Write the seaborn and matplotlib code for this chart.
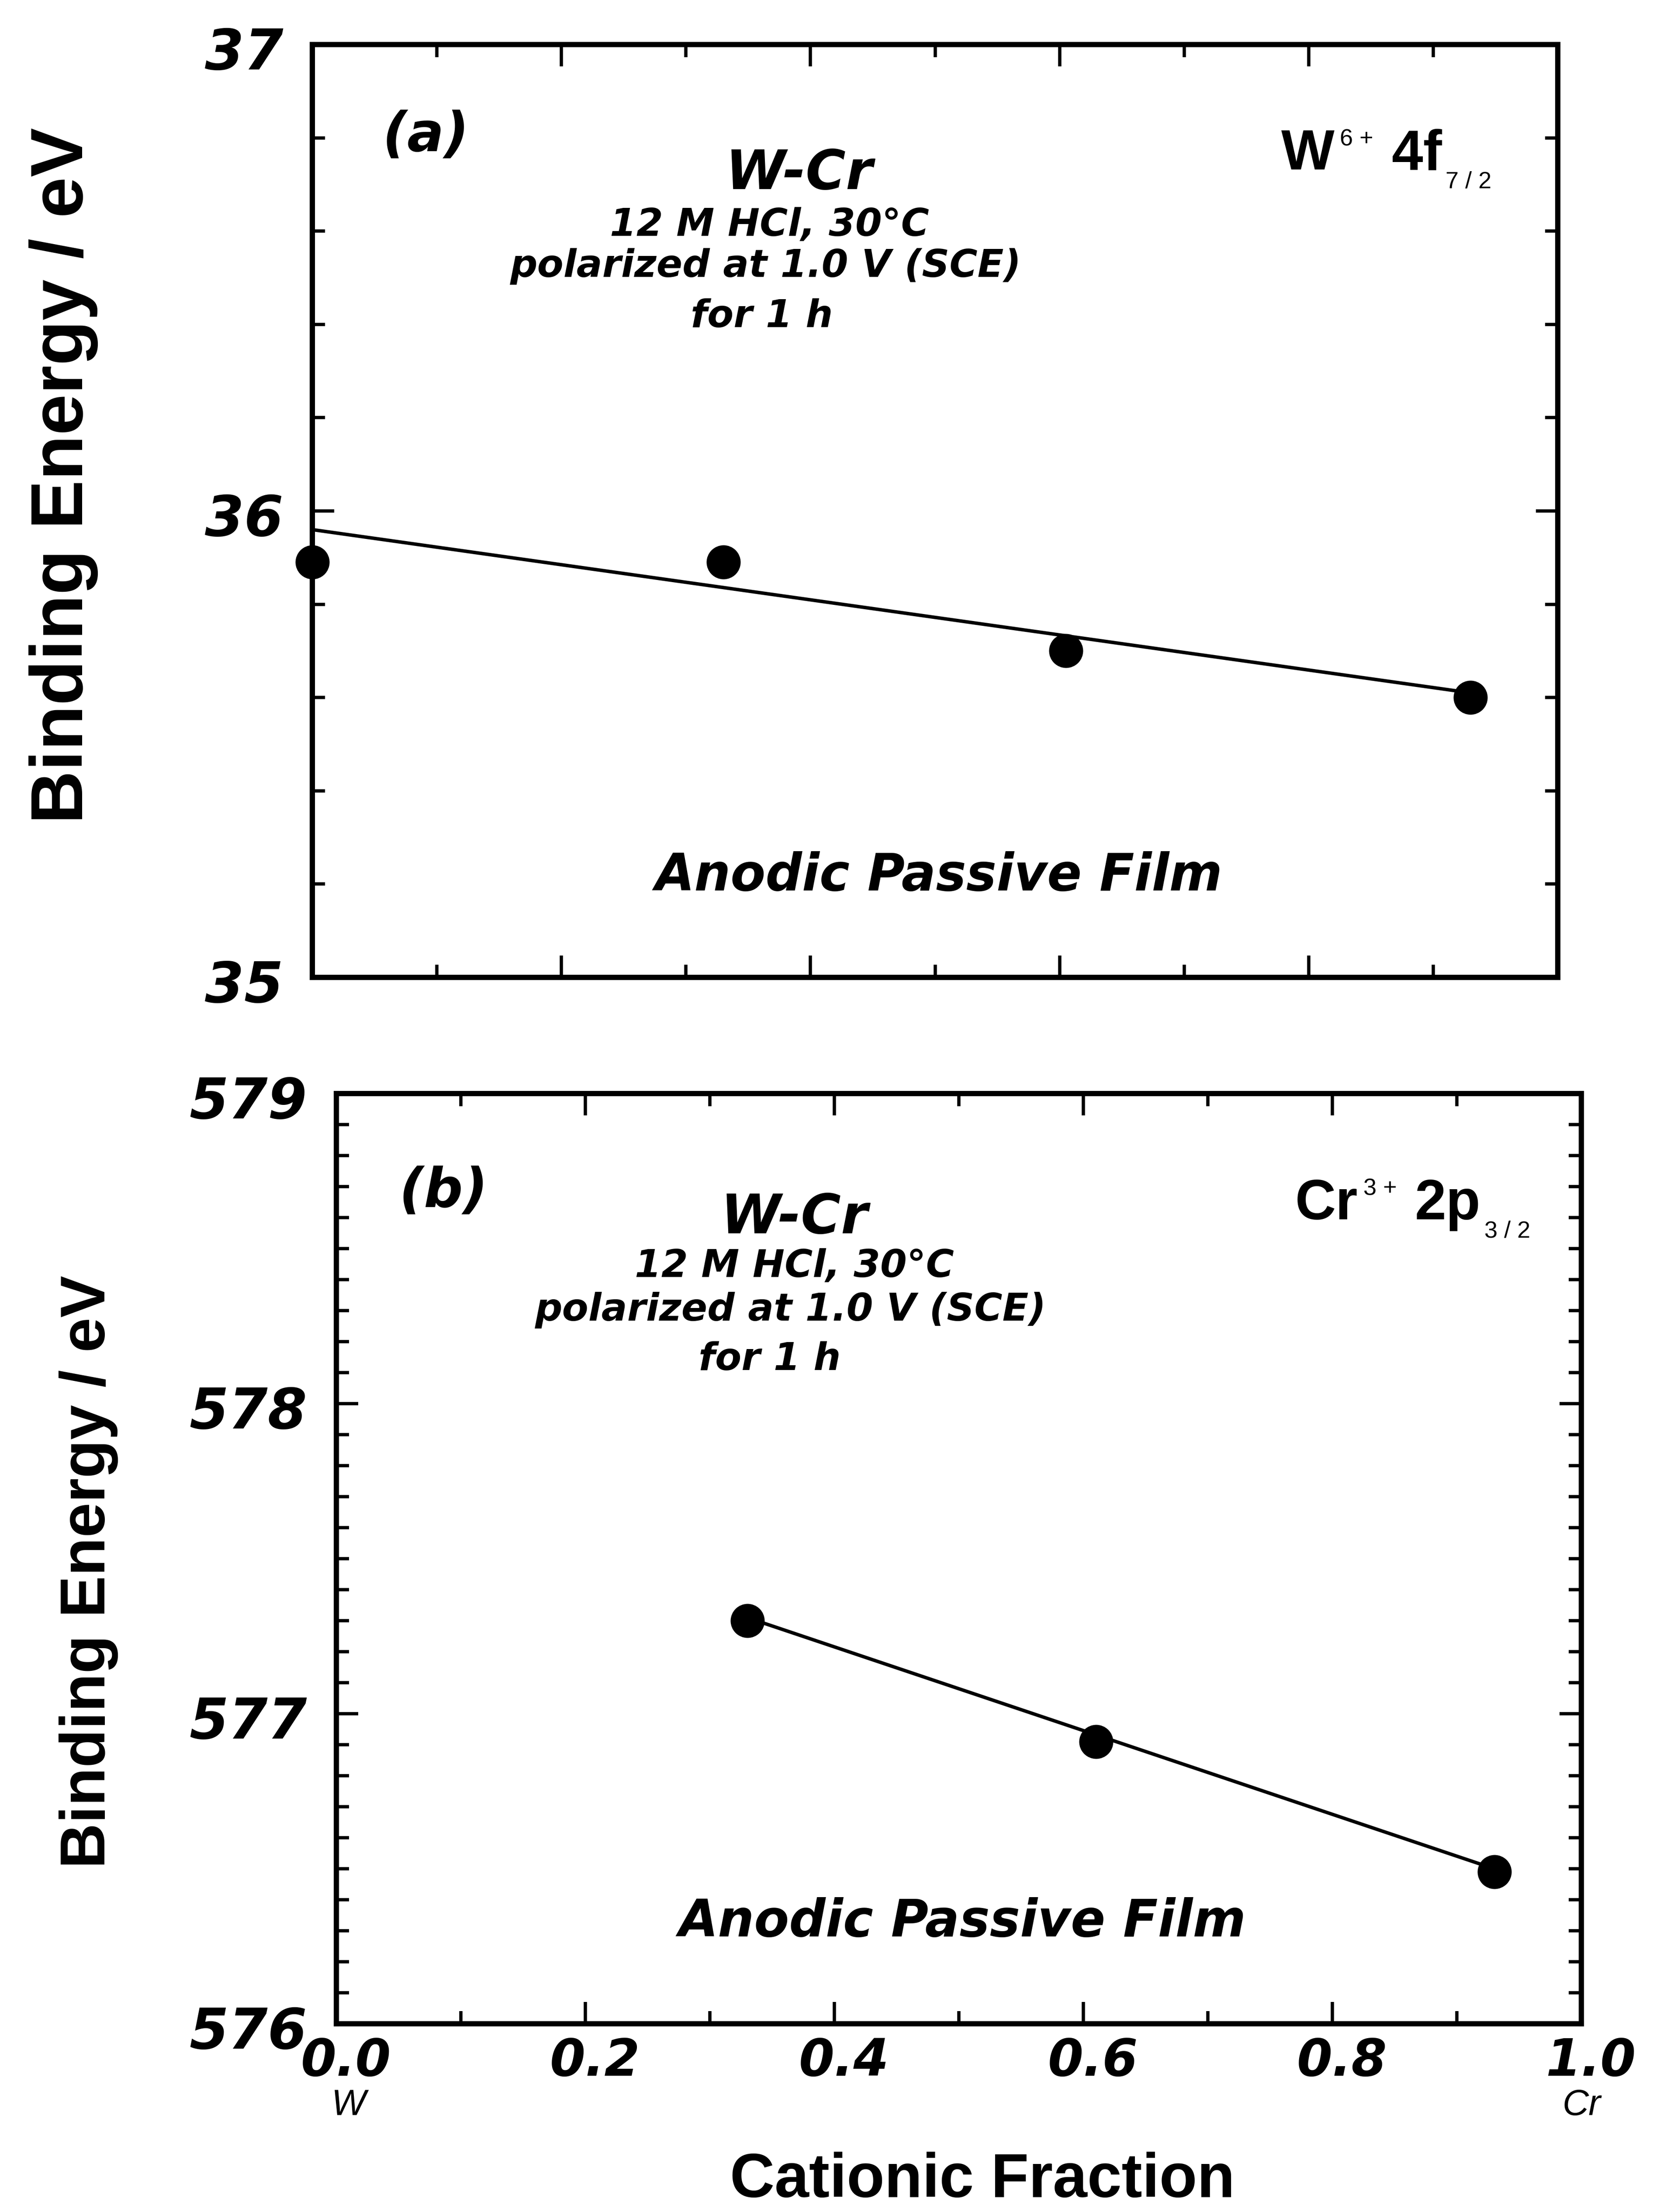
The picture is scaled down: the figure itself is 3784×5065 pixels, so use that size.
import matplotlib
matplotlib.use("Agg")
import matplotlib.pyplot as plt
import seaborn as sns
from matplotlib.ticker import MultipleLocator, FixedLocator
from matplotlib.transforms import ScaledTranslation, blended_transform_factory

# ---------------- data ----------------
frac_a = [0.0, 0.33, 0.605, 0.93]
be_a = [35.89, 35.89, 35.70, 35.60]
fit_frac_a = [0.0, 0.93]
fit_be_a = [35.96, 35.61]

frac_b = [0.33, 0.61, 0.93]
be_b = [577.30, 576.91, 576.49]
fit_frac_b = [0.33, 0.93]
fit_be_b = [577.31, 576.50]

xticks = [0.0, 0.2, 0.4, 0.6, 0.8, 1.0]
xticklabels = ["0.0", "0.2", "0.4", "0.6", "0.8", "1.0"]
yticks_a = [35, 36, 37]
yticklabels_a = ["35", "36", "37"]
yticks_b = [576, 577, 578, 579]
yticklabels_b = ["576", "577", "578", "579"]

# ---------------- style ----------------
sns.set_theme(style="ticks")
plt.rcParams["font.family"] = ["Liberation Sans", "DejaVu Sans"]
plt.rcParams.update({
    "text.color": "black",
    "axes.labelcolor": "black",
    "xtick.color": "black",
    "ytick.color": "black",
    "axes.edgecolor": "black",
})
ITAL = ["DejaVu Sans"]

W, H = 3784, 5065
DPI = 300
fig = plt.figure(figsize=(W / DPI, H / DPI), dpi=DPI)
fig.patch.set_facecolor("white")

ax_a = fig.add_axes([715 / W, 1 - 2238 / H, (3566 - 715) / W, (2238 - 102) / H])
ax_b = fig.add_axes([770 / W, 1 - 4634 / H, (3620 - 770) / W, (4634 - 2504) / H])


def style_axis(ax, yticks, ylabels, yminor, ylim, show_xlabels):
    ax.set_facecolor("white")
    for sp in ax.spines.values():
        sp.set_visible(True)
        sp.set_linewidth(2.9)
        sp.set_color("black")
    ax.set_xlim(0, 1)
    ax.set_ylim(*ylim)
    ax.xaxis.set_major_locator(FixedLocator(xticks))
    ax.xaxis.set_minor_locator(MultipleLocator(0.1))
    ax.yaxis.set_major_locator(FixedLocator(yticks))
    ax.yaxis.set_minor_locator(MultipleLocator(yminor))
    ax.tick_params(which="both", direction="in", top=True, right=True,
                   color="black", width=1.8)
    ax.tick_params(which="major", length=12)
    ax.tick_params(which="minor", length=7)
    ax.tick_params(axis="y", which="major", pad=16)
    ax.tick_params(axis="x", which="major", pad=7)
    ax.set_yticks(yticks)
    ax.set_yticklabels(ylabels, fontsize=31, fontweight="bold",
                       fontstyle="italic", color="black", family=ITAL)
    yoff = ScaledTranslation(0, -8 / DPI, fig.dpi_scale_trans)
    for lbl in ax.get_yticklabels():
        lbl.set_transform(lbl.get_transform() + yoff)
    ax.set_xticks(xticks)
    if show_xlabels:
        ax.set_xticklabels(xticklabels, fontsize=28, fontweight="bold",
                           fontstyle="italic", color="black", family=ITAL)
        xoff = ScaledTranslation(22 / DPI, 0, fig.dpi_scale_trans)
        for lbl in ax.get_xticklabels():
            lbl.set_transform(lbl.get_transform() + xoff)
    else:
        ax.set_xticklabels([])
    ax.grid(False)


def species_label(ax, x, y, main, sup, main2, sub):
    t1 = ax.text(x, y, main, transform=ax.transAxes, fontsize=31,
                 fontweight="bold", ha="left", va="baseline", color="black")
    t2 = ax.annotate(sup, xy=(1, 1), xycoords=t1, xytext=(3, 0),
                     textcoords="offset points", fontsize=13, ha="left",
                     va="top", color="black")
    t3 = ax.annotate(main2, xy=(1, 0), xycoords=(t2, t1), xytext=(10, 0),
                     textcoords="offset points", fontsize=31,
                     fontweight="bold", ha="left", va="bottom", color="black")
    ax.annotate(sub, xy=(1, 0.2), xycoords=(t3, t1), xytext=(2, 0),
                textcoords="offset points", fontsize=13, ha="left",
                va="top", color="black")


def ital(ax, x, y, s, size):
    ax.text(x, y, s, transform=ax.transAxes, fontsize=size, fontweight="bold",
            fontstyle="italic", family=ITAL, ha="center", va="baseline",
            color="black")


def panel_text(ax, tag, tag_xy, cond_xy, species, film_xy):
    ital(ax, *tag_xy, tag, 30)
    (wx, wy), (c1x, c1y), (c2x, c2y), (c3x, c3y) = cond_xy
    ital(ax, wx, wy, "W-Cr", 30)
    ital(ax, c1x, c1y, "12 M HCl, 30°C", 21)
    ital(ax, c2x, c2y, "polarized at 1.0 V (SCE)", 21)
    ital(ax, c3x, c3y, "for 1 h", 21)
    ital(ax, *film_xy, "Anodic Passive Film", 28)
    species_label(ax, *species)


# ---------------- panel (a) ----------------
sns.lineplot(x=fit_frac_a, y=fit_be_a, ax=ax_a, color="black", linewidth=1.9,
             zorder=2)
sns.scatterplot(x=frac_a, y=be_a, ax=ax_a, s=350, color="black",
                edgecolor="black", linewidth=0, zorder=3, clip_on=False)
style_axis(ax_a, yticks_a, yticklabels_a, 0.2, (35, 37), False)
ax_a.set_ylabel("Binding Energy / eV", fontsize=40.5, fontweight="bold",
                color="black")
ax_a.yaxis.set_label_coords(-0.172, 0.538)
panel_text(ax_a, "(a)", (0.091, 0.886),
           [(0.391, 0.845), (0.367, 0.795), (0.364, 0.751), (0.361, 0.697)],
           (0.778, 0.866, "W", "6 +", "4f", "7 / 2"),
           (0.503, 0.093))

# ---------------- panel (b) ----------------
sns.lineplot(x=fit_frac_b, y=fit_be_b, ax=ax_b, color="black", linewidth=1.9,
             zorder=2)
sns.scatterplot(x=frac_b, y=be_b, ax=ax_b, s=350, color="black",
                edgecolor="black", linewidth=0, zorder=3, clip_on=False)
style_axis(ax_b, yticks_b, yticklabels_b, 0.1, (576, 579), True)
ax_b.set_ylabel("Binding Energy / eV", fontsize=34.5, fontweight="bold",
                color="black")
ax_b.yaxis.set_label_coords(-0.175, 0.486)
ax_b.set_xlabel("Cationic Fraction", fontsize=34, fontweight="bold",
                color="black")
ax_b.xaxis.set_label_coords(0.519, -0.1375)
panel_text(ax_b, "(b)", (0.086, 0.878),
           [(0.368, 0.850), (0.368, 0.803), (0.365, 0.756), (0.348, 0.703)],
           (0.770, 0.865, "Cr", "3 +", "2p", "3 / 2"),
           (0.503, 0.094))

trans = blended_transform_factory(ax_b.transData, ax_b.transAxes)
ax_b.text(0.01, -0.088, "W", transform=trans, fontsize=20, fontstyle="italic",
          ha="center", va="center", color="black")
ax_b.text(1.0, -0.088, "Cr", transform=trans, fontsize=20, fontstyle="italic",
          ha="center", va="center", color="black")

fig.savefig("out.png", dpi=DPI, facecolor="white")
